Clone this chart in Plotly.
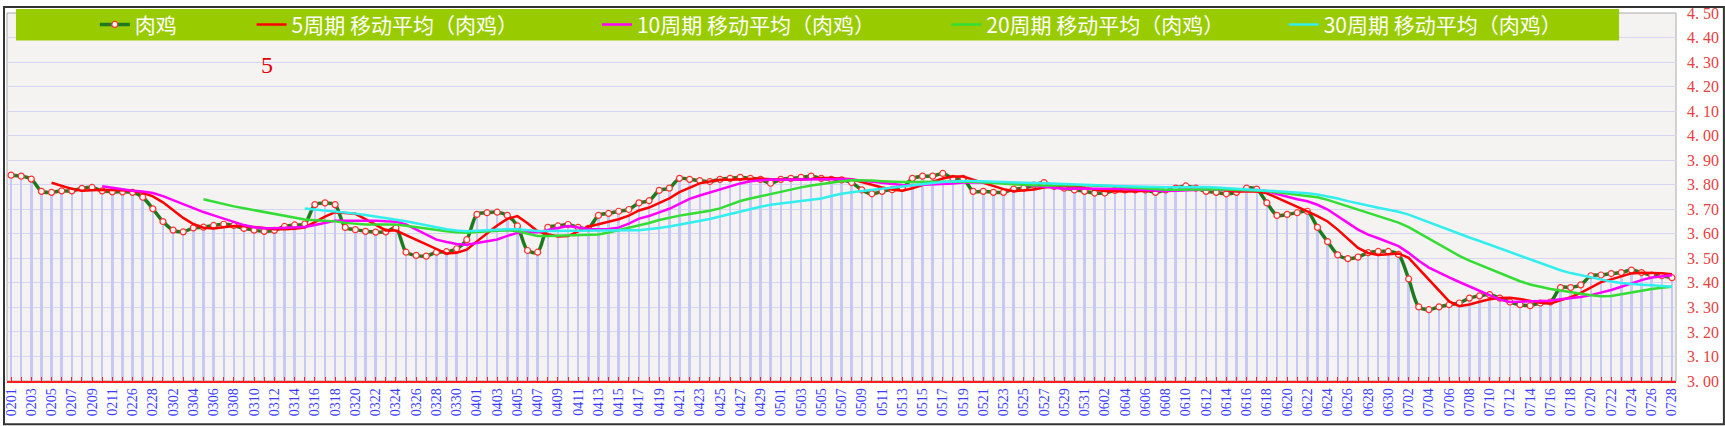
import pandas as pd
import plotly.graph_objects as go

# ---- categories (MMDD) ----
d1 = pd.date_range("2023-02-01", "2023-02-11").strftime("%m%d").tolist()
d2 = ["0225"]
d3 = pd.date_range("2023-02-26", "2023-07-28").strftime("%m%d").tolist()
dates = d1 + d2 + d3
tick_labels = [d if i % 2 == 0 else "" for i, d in enumerate(dates)]

# ---- series: 肉鸡 price ----
price = [
    3.839, 3.835, 3.823, 3.773, 3.769, 3.775, 3.775, 3.785, 3.789, 3.775,
    3.771, 3.771, 3.769, 3.749, 3.702, 3.650, 3.615, 3.608, 3.624, 3.627,
    3.634, 3.639, 3.634, 3.622, 3.615, 3.610, 3.614, 3.630, 3.636, 3.640,
    3.719, 3.726, 3.719, 3.626, 3.617, 3.610, 3.607, 3.608, 3.624, 3.525,
    3.512, 3.509, 3.525, 3.527, 3.539, 3.576, 3.679, 3.686, 3.688, 3.675,
    3.632, 3.532, 3.525, 3.626, 3.632, 3.638, 3.626, 3.622, 3.675, 3.683,
    3.692, 3.699, 3.726, 3.735, 3.777, 3.786, 3.826, 3.822, 3.817, 3.813,
    3.822, 3.826, 3.830, 3.826, 3.822, 3.806, 3.822, 3.826, 3.830, 3.835,
    3.826, 3.822, 3.820, 3.809, 3.779, 3.763, 3.773, 3.780, 3.785, 3.826,
    3.835, 3.835, 3.846, 3.826, 3.826, 3.773, 3.773, 3.769, 3.769, 3.782,
    3.786, 3.799, 3.809, 3.793, 3.786, 3.779, 3.773, 3.766, 3.766, 3.777,
    3.779, 3.779, 3.779, 3.769, 3.779, 3.786, 3.795, 3.786, 3.773, 3.769,
    3.763, 3.769, 3.786, 3.782, 3.726, 3.675, 3.679, 3.686, 3.692, 3.626,
    3.568, 3.514, 3.499, 3.505, 3.523, 3.528, 3.528, 3.516, 3.416, 3.302,
    3.291, 3.302, 3.311, 3.318, 3.338, 3.347, 3.352, 3.338, 3.322, 3.311,
    3.307, 3.318, 3.322, 3.381, 3.381, 3.392, 3.429, 3.432, 3.438, 3.442,
    3.452, 3.442, 3.432, 3.429, 3.421,
]

ma_periods = [5, 10, 20, 30]
ma_names = ["5周期 移动平均（肉鸡）", "10周期 移动平均（肉鸡）",
            "20周期 移动平均（肉鸡）", "30周期 移动平均（肉鸡）"]
ma_colors = ["#ff0000", "#ff00ff", "#33dd33", "#33eeee"]

y_ticks = [round(3.0 + 0.1 * k, 2) for k in range(16)]
y_tick_text = [("%.2f" % v).replace(".", ".\u00a0") for v in y_ticks]

s = pd.Series(price)

fig = go.Figure()
fig.add_trace(go.Bar(x=dates, y=price, width=0.24, marker_color="#c8c8f4",
                     marker_line_width=0, showlegend=False, hoverinfo="skip"))

fig.add_trace(go.Scatter(x=dates, y=price, name="肉鸡", mode="lines+markers",
                         line=dict(color="#1f7a1f", width=3.5, shape="spline", smoothing=0.8),
                         marker=dict(symbol="circle", size=6, color="#fff4f4",
                                     line=dict(color="#ff3030", width=1.2)),
                         legend="legend"))

legend_ids = ["legend2", "legend3", "legend4", "legend5"]
for p, nm, col, lg in zip(ma_periods, ma_names, ma_colors, legend_ids):
    ma = s.rolling(p).mean()
    fig.add_trace(go.Scatter(x=dates, y=ma, name=nm, mode="lines",
                             line=dict(color=col, width=2.5),
                             legend=lg))

W, H = 1725, 426
ml, mr, mt, mb = 4, 49, 7, 45
pw, ph = W - ml - mr, H - mt - mb

def px2x(px):
    return (px - ml) / pw

def px2y(py):
    return (H - mb - py) / ph

leg_font = dict(family="Noto Sans CJK SC", size=21, color="white")
text_starts = [132, 289, 635, 985, 1323]
legend_common = dict(orientation="h", bgcolor="rgba(0,0,0,0)", font=leg_font,
                     yanchor="middle", y=px2y(19), xanchor="left")
layout_legends = {}
for k, ts in enumerate(text_starts):
    key = "legend" if k == 0 else "legend%d" % (k + 1)
    layout_legends[key] = dict(legend_common, x=px2x(ts - 40))

fig.update_layout(
    width=W, height=H,
    margin=dict(l=ml, r=mr, t=mt, b=mb),
    paper_bgcolor="white",
    plot_bgcolor="#f4f3f1",
    bargap=0,
    **layout_legends,
    xaxis=dict(type="category", range=[-0.4, len(dates) - 0.6],
               tickmode="array", tickvals=dates, ticktext=tick_labels,
               tickangle=-90, tickfont=dict(family="Liberation Serif", size=14, color="#3b3bff"),
               ticks="inside", ticklen=4, tickcolor="#ff2020",
               showline=True, linecolor="#ff2020", linewidth=1.5,
               showgrid=False, zeroline=False),
    yaxis=dict(range=[3.0, 4.5], side="right", tickmode="array",
               tickvals=y_ticks, ticktext=y_tick_text,
               tickfont=dict(family="Liberation Serif", size=16, color="#e84040"),
               ticks="", ticklabelstandoff=10,
               gridcolor="#d6d6f3", gridwidth=1, zeroline=False, showline=False),
    shapes=[
        dict(type="rect", xref="paper", yref="paper", x0=0, x1=1, y0=0, y1=1,
             line=dict(color="#a8a8a8", width=1), layer="below"),
        dict(type="rect", xref="paper", yref="paper",
             x0=px2x(13), x1=px2x(1619), y0=px2y(35), y1=px2y(3),
             fillcolor="#99cc00", line=dict(width=0), layer="above"),
        dict(type="rect", xref="paper", yref="paper",
             x0=px2x(1), x1=px2x(W - 1), y0=px2y(H - 1), y1=px2y(1),
             line=dict(color="#333333", width=2)),
    ],
    annotations=[
        dict(text="5", xref="paper", yref="paper", x=px2x(256), y=px2y(45),
             showarrow=False, font=dict(family="Liberation Serif", size=24, color="#e00000")),
    ],
)

fig.write_html("out.html")
